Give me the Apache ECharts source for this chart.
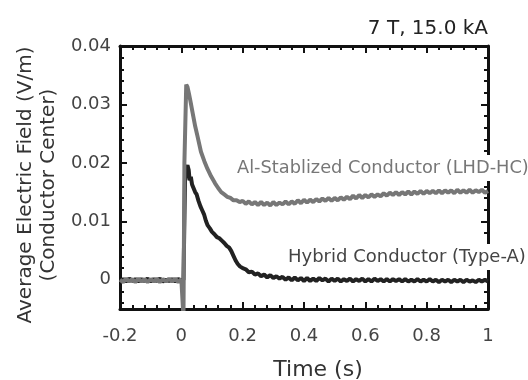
<!DOCTYPE html>
<html>
<head>
<meta charset="utf-8">
<script src="https://cdn.jsdelivr.net/npm/echarts@6/dist/echarts.min.js"></script>
<style>html,body{margin:0;padding:0;background:#fff;}#chart{width:528px;height:380px;}</style>
</head>
<body>
<div id="chart"></div>
<script>
// ---- Data ----
var titleText = '7 T, 15.0 kA';
var xAxisName = 'Time (s)';
var yAxisName = 'Average Electric Field (V/m)\n(Conductor Center)';
var alName = 'Al-Stablized Conductor (LHD-HC)';
var hyName = 'Hybrid Conductor (Type-A)';

var xTickMin = -0.2, xTickMax = 1, xTickStep = 0.2;
var xMajorTicks = [-0.2, 0, 0.2, 0.4, 0.6, 0.8, 1];
var xMinorTicks = [-0.16, -0.12, -0.08, -0.04, 0.04, 0.08, 0.12, 0.16, 0.24, 0.28, 0.32, 0.36,
                   0.44, 0.48, 0.52, 0.56, 0.64, 0.68, 0.72, 0.76, 0.84, 0.88, 0.92, 0.96];
var yMin = -0.005, yMax = 0.04;
var yMajorTicks = [0, 0.01, 0.02, 0.03, 0.04];
var yMinorTicks = [-0.004, -0.002, 0.002, 0.004, 0.006, 0.008, 0.012, 0.014, 0.016, 0.018,
                   0.022, 0.024, 0.026, 0.028, 0.032, 0.034, 0.036, 0.038];

// Al-stabilized conductor (gray)
var alTime = [
  -0.20,-0.19,-0.18,-0.17,-0.16,-0.15,-0.14,-0.13,-0.12,-0.11,-0.10,-0.09,-0.08,-0.07,-0.06,-0.05,-0.04,-0.03,-0.02,-0.01,0.00,
  0.004,0.007,0.010,0.016,0.020,0.025,0.030,0.037,0.045,0.053,0.064,0.075,0.085,0.097,0.110,0.120,0.130,0.140,0.150,0.160,0.170,0.180,0.190,
  0.20,0.21,0.22,0.23,0.24,0.25,0.26,0.27,0.28,0.29,0.30,0.31,0.32,0.33,0.34,0.35,0.36,0.37,0.38,0.39,
  0.40,0.41,0.42,0.43,0.44,0.45,0.46,0.47,0.48,0.49,0.50,0.51,0.52,0.53,0.54,0.55,0.56,0.57,0.58,0.59,
  0.60,0.61,0.62,0.63,0.64,0.65,0.66,0.67,0.68,0.69,0.70,0.71,0.72,0.73,0.74,0.75,0.76,0.77,0.78,0.79,
  0.80,0.81,0.82,0.83,0.84,0.85,0.86,0.87,0.88,0.89,0.90,0.91,0.92,0.93,0.94,0.95,0.96,0.97,0.98,0.99,1.00
];
var alValue = [
  0.0000,-0.0004,0.0002,-0.0003,0.0001,-0.0004,0.0002,-0.0003,0.0001,-0.0004,0.0001,-0.0003,0.0002,-0.0004,0.0001,-0.0003,0.0002,-0.0003,0.0002,-0.0004,0.0001,
  0.0000,-0.0065,0.0200,0.0334,0.0330,0.0318,0.0305,0.0285,0.0263,0.0245,0.0219,0.0203,0.0190,0.0177,0.0165,0.0157,0.0150,0.0146,0.0142,0.0140,0.0136,0.0136,0.0133,
  0.0135,0.0130,0.0134,0.0129,0.0133,0.0128,0.0133,0.0128,0.0132,0.0127,0.0133,0.0128,0.0132,0.0129,0.0134,0.0129,0.0134,0.0130,0.0136,0.0131,
  0.0137,0.0132,0.0137,0.0133,0.0138,0.0134,0.0139,0.0135,0.0140,0.0135,0.0140,0.0136,0.0141,0.0137,0.0142,0.0138,0.0144,0.0139,0.0145,0.0140,
  0.0145,0.0141,0.0146,0.0142,0.0146,0.0143,0.0148,0.0144,0.0149,0.0145,0.0150,0.0145,0.0150,0.0146,0.0151,0.0146,0.0151,0.0147,0.0152,0.0147,
  0.0152,0.0148,0.0152,0.0148,0.0153,0.0148,0.0153,0.0149,0.0153,0.0148,0.0154,0.0149,0.0153,0.0149,0.0154,0.0149,0.0153,0.0150,0.0154,0.0149,0.0152
];

// Hybrid conductor (black)
var hyTime = [
  -0.20,-0.19,-0.18,-0.17,-0.16,-0.15,-0.14,-0.13,-0.12,-0.11,-0.10,-0.09,-0.08,-0.07,-0.06,-0.05,-0.04,-0.03,-0.02,-0.01,0.00,
  0.007,0.012,0.017,0.020,0.024,0.027,0.031,0.035,0.040,0.045,0.050,0.056,0.062,0.068,0.074,0.080,0.086,0.093,0.100,0.108,0.116,0.124,0.132,0.140,0.148,0.156,0.163,0.170,0.177,0.184,0.191,
  0.20,0.21,0.22,0.23,0.24,0.25,0.26,0.27,0.28,0.29,0.30,0.31,0.32,0.33,0.34,0.35,0.36,0.37,0.38,0.39,
  0.40,0.41,0.42,0.43,0.44,0.45,0.46,0.47,0.48,0.49,0.50,0.51,0.52,0.53,0.54,0.55,0.56,0.57,0.58,0.59,
  0.60,0.61,0.62,0.63,0.64,0.65,0.66,0.67,0.68,0.69,0.70,0.71,0.72,0.73,0.74,0.75,0.76,0.77,0.78,0.79,
  0.80,0.81,0.82,0.83,0.84,0.85,0.86,0.87,0.88,0.89,0.90,0.91,0.92,0.93,0.94,0.95,0.96,0.97,0.98,0.99,1.00
];
var hyValue = [
  -0.0002,0.0001,-0.0003,0.0002,-0.0002,0.0001,-0.0003,0.0001,-0.0002,0.0002,-0.0003,0.0001,-0.0002,0.0002,-0.0003,0.0000,-0.0002,0.0001,-0.0003,0.0001,-0.0001,
  0.0000,0.0170,0.0192,0.0196,0.0188,0.0170,0.0176,0.0163,0.0160,0.0150,0.0146,0.0135,0.0126,0.0119,0.0112,0.0101,0.0093,0.0088,0.0082,0.0078,0.0073,0.0071,0.0067,0.0063,0.0058,0.0055,0.0049,0.0041,0.0033,0.0027,0.0023,
  0.0020,0.0018,0.0013,0.0014,0.0009,0.0011,0.0006,0.0009,0.0004,0.0008,0.0003,0.0006,0.0002,0.0005,0.0000,0.0004,-0.0001,0.0004,-0.0001,0.0003,
  -0.0002,0.0003,-0.0002,0.0002,-0.0002,0.0003,-0.0001,0.0002,-0.0003,0.0002,-0.0002,0.0002,-0.0003,0.0001,-0.0002,0.0002,-0.0003,0.0001,-0.0002,0.0002,
  -0.0003,0.0001,-0.0003,0.0002,-0.0002,0.0001,-0.0003,0.0001,-0.0003,0.0001,-0.0002,0.0001,-0.0003,0.0001,-0.0003,0.0000,-0.0003,0.0001,-0.0003,0.0000,
  -0.0003,0.0001,-0.0003,0.0000,-0.0004,0.0000,-0.0003,0.0000,-0.0004,0.0000,-0.0003,0.0000,-0.0004,0.0000,-0.0003,-0.0001,-0.0004,0.0000,-0.0003,0.0000,-0.0003
];

function zip(a, b) { return a.map(function (t, i) { return [t, b[i]]; }); }

var FONT = 'DejaVu Sans';
var INK = '#111';
function lineOnly(pos, extra) {
  // axis that draws only the frame line
  return Object.assign({
    type: 'value', position: pos,
    axisLine: { show: true, onZero: false, lineStyle: { color: INK, width: 3 } },
    axisTick: { show: false }, minorTick: { show: false },
    splitLine: { show: false }, minorSplitLine: { show: false },
    axisLabel: { show: false }
  }, extra);
}
function ticksOnly(pos, len, extra, tickValues) {
  // axis that draws only tick marks (inside)
  return Object.assign({
    type: 'value', position: pos,
    axisLine: { show: false, onZero: false },
    axisTick: { show: true, inside: true, length: len, customValues: tickValues, lineStyle: { color: INK, width: 2 } },
    minorTick: { show: false },
    splitLine: { show: false }, minorSplitLine: { show: false },
    axisLabel: { show: false }
  }, extra);
}
var xExt = { min: xTickMin, max: xTickMax, interval: xTickStep };
var yExt = { min: yMin, max: yMax };

var chart = echarts.init(document.getElementById('chart'), null, { renderer: 'canvas' });
chart.setOption({
  animation: false,
  backgroundColor: '#fff',
  title: {
    text: titleText, right: 35, top: 14,
    textStyle: { fontFamily: FONT, fontSize: 20, fontWeight: 'normal', color: '#222' }
  },
  grid: { left: 120, right: 40, top: 46, bottom: 71, containLabel: false, outerBoundsMode: 'none' },
  xAxis: [
    lineOnly('bottom', Object.assign({
      axisLabel: { show: true, fontFamily: FONT, fontSize: 18, color: '#444', margin: 18 },
      name: xAxisName, nameLocation: 'middle', nameGap: 50,
      nameTextStyle: { fontFamily: FONT, fontSize: 22, color: '#333', padding: [0, 0, 0, 28] }
    }, xExt)),
    lineOnly('top', xExt),
    ticksOnly('bottom', 7, xExt, xMajorTicks),
    ticksOnly('bottom', 4, xExt, xMinorTicks),
    ticksOnly('top', 7, xExt, xMajorTicks),
    ticksOnly('top', 4, xExt, xMinorTicks)
  ],
  yAxis: [
    lineOnly('left', Object.assign({
      axisLabel: { show: true, customValues: yMajorTicks, fontFamily: FONT, fontSize: 18, color: '#444', margin: 9 },
      name: yAxisName, nameLocation: 'middle', nameGap: 60, nameRotate: 90,
      nameTextStyle: { fontFamily: FONT, fontSize: 20, color: '#333', lineHeight: 23, align: 'center', padding: [0, 15, 0, 0] }
    }, yExt)),
    lineOnly('right', yExt),
    ticksOnly('left', 7, yExt, yMajorTicks),
    ticksOnly('left', 4, yExt, yMinorTicks),
    ticksOnly('right', 7, yExt, yMajorTicks),
    ticksOnly('right', 4, yExt, yMinorTicks)
  ],
  series: [{
    name: hyName, type: 'line', xAxisIndex: 0, yAxisIndex: 0,
    showSymbol: false, clip: true, z: 3,
    lineStyle: { color: '#222', width: 4 },
    data: zip(hyTime, hyValue)
  }, {
    name: alName, type: 'line', xAxisIndex: 0, yAxisIndex: 0,
    showSymbol: false, clip: true, z: 4,
    lineStyle: { color: '#777', width: 4 },
    data: zip(alTime, alValue)
  }],
  graphic: [{
    type: 'text', left: 234, top: 155, z: 100,
    style: { text: alName, fontFamily: FONT, fontSize: 17.8, fill: '#777', backgroundColor: '#fff', padding: [4, 3, 4, 3] }
  }, {
    type: 'text', left: 285, top: 244, z: 100,
    style: { text: hyName, fontFamily: FONT, fontSize: 18, fill: '#444', backgroundColor: '#fff', padding: [4, 3, 4, 3] }
  }]
});
</script>
</body>
</html>
